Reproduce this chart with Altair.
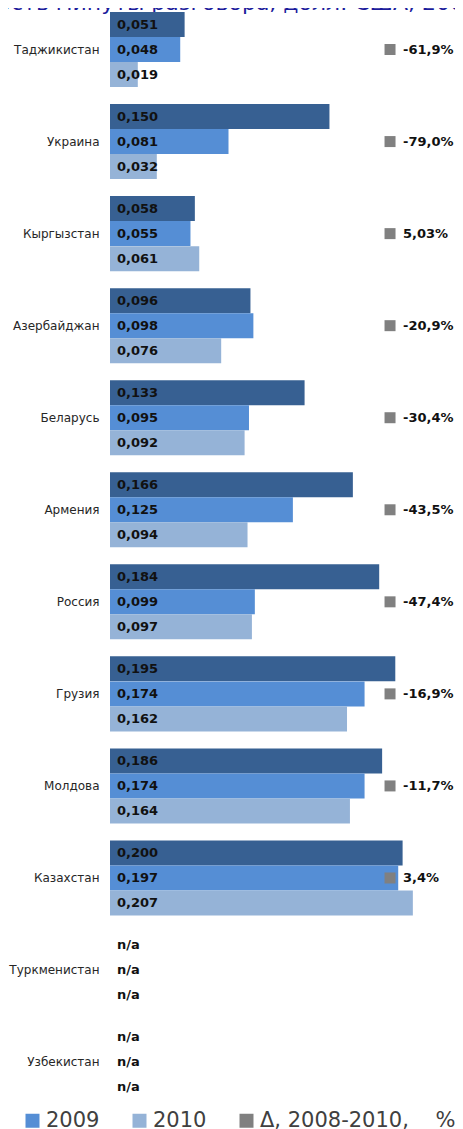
import altair as alt
import pandas as pd

title_text = "Стоимость минуты разговора, долл. США, 2008-2010"

countries = ["Таджикистан", "Украина", "Кыргызстан", "Азербайджан", "Беларусь", "Армения",
             "Россия", "Грузия", "Молдова", "Казахстан", "Туркменистан", "Узбекистан"]
series = ["2008", "2009", "2010"]
v2008 = [0.051, 0.150, 0.058, 0.096, 0.133, 0.166, 0.184, 0.195, 0.186, 0.200, None, None]
v2009 = [0.048, 0.081, 0.055, 0.098, 0.095, 0.125, 0.099, 0.174, 0.174, 0.197, None, None]
v2010 = [0.019, 0.032, 0.061, 0.076, 0.092, 0.094, 0.097, 0.162, 0.164, 0.207, None, None]
delta = ["-61,9%", "-79,0%", "5,03%", "-20,9%", "-30,4%", "-43,5%", "-47,4%", "-16,9%",
         "-11,7%", "3,4%", None, None]
delta_name = "Δ, 2008-2010,\u00a0\u00a0\u00a0\u00a0%"

colors = ["#376092", "#558ED5", "#95B3D7", "#808080"]

rows = []
for s, vals in zip(series, [v2008, v2009, v2010]):
    for c, v in zip(countries, vals):
        rows.append({"country": c, "series": s, "value": v,
                     "label": ("n/a" if v is None else f"{v:.3f}".replace(".", ","))})
df = pd.DataFrame(rows)
ddf = pd.DataFrame([{"country": c, "series": delta_name, "d": d}
                    for c, d in zip(countries, delta) if d is not None])
tdf = pd.DataFrame([{"t": title_text}])

FONT = "DejaVu Sans"
xscale = alt.Scale(domain=[0, 0.23], nice=False, zero=True)
yscale = alt.Scale(domain=countries, paddingInner=0.185, paddingOuter=0.0435)
oscale = alt.Scale(domain=series, paddingInner=0, paddingOuter=0)
cscale = alt.Scale(domain=series + [delta_name], range=colors)

yenc = alt.Y("country:N", scale=yscale, sort=countries,
             axis=alt.Axis(title=None, domain=False, ticks=False, labelPadding=11,
                           labelFontSize=12, labelColor="#262626", labelFont=FONT))
oenc = alt.YOffset("series:N", scale=oscale, sort=series)

bars = alt.Chart(df).mark_bar(size=25).encode(
    x=alt.X("value:Q", scale=xscale, axis=None),
    y=yenc,
    yOffset=oenc,
    color=alt.Color("series:N", scale=cscale,
                    legend=alt.Legend(
                        values=["2009", "2010", delta_name], orient="none",
                        direction="horizontal", legendX=-88, legendY=1102, padding=0,
                        title=None, symbolType="square", symbolSize=196,
                        symbolStrokeWidth=0, labelFontSize=21, labelFont=FONT,
                        labelColor="#404040", labelOffset=3, columnPadding=29,
                        labelLimit=400,
                        labelExpr="datum.label == '2009' ? '2009\u00a0' : datum.label")),
)

vlabels = alt.Chart(df).mark_text(align="left", baseline="middle", dx=7, fontSize=13,
                                  fontWeight="bold", font=FONT, color="#111111").encode(
    x=alt.datum(0, scale=xscale),
    y=alt.Y("country:N", scale=yscale, sort=countries),
    yOffset=oenc,
    text="label:N",
)

dsq = alt.Chart(ddf).mark_square(size=121, opacity=1).encode(
    x=alt.datum(0.1914),
    y=alt.Y("country:N", scale=yscale, sort=countries),
    color=alt.Color("series:N", scale=cscale),
)
dtext = alt.Chart(ddf).mark_text(align="left", baseline="middle", dx=13, fontSize=13,
                                 fontWeight="bold", font=FONT, color="#111111").encode(
    x=alt.datum(0.1914),
    y=alt.Y("country:N", scale=yscale, sort=countries),
    text="d:N",
)

title = alt.Chart(tdf).mark_text(align="left", baseline="alphabetic", fontSize=22,
                                 font=FONT, color="#1C1C9C").encode(
    x=alt.value(-185), y=alt.value(2), text="t:N")

chart = alt.layer(title, bars, vlabels, dsq, dtext).properties(
    width=336.5, height=1095.6,
    autosize=alt.AutoSizeParams(type="none"),
    padding={"left": 102, "right": 8.5, "top": 0, "bottom": 25.4},
).configure_view(stroke=None)

chart.save("out.html", embed_options={"renderer": "svg", "actions": False})
